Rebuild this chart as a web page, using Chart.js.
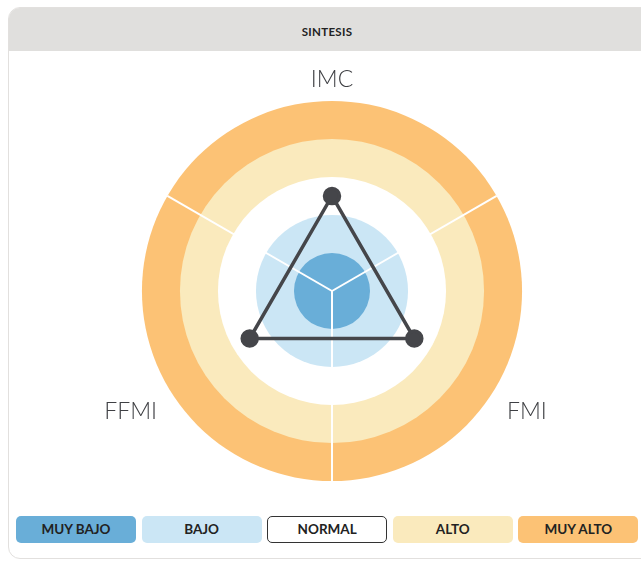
<!DOCTYPE html>
<html lang="es">

<head>
    <meta charset="UTF-8">
    <title>Sintesis</title>

    <style>
        html, body {
            margin: 0;
            padding: 0;
            width: 641px;
            height: 562px;
            overflow: hidden;
            background: #ffffff;
            font-family: Lato, "Noto Sans", sans-serif;
        }

        .card {
            position: absolute;
            left: 8px;
            top: 7px;
            width: 700px;
            height: 552px;
            border: 1.5px solid #e2e0de;
            border-radius: 12px;
            overflow: hidden;
            box-sizing: border-box;
        }

        .card-header {
            height: 43px;
            background: #e0dfdd;
            text-align: center;
            line-height: 48px;
            font-size: 11.5px;
            font-weight: 700;
            color: #222222;
            padding-right: 62px;
            letter-spacing: 0.3px;
        }

        #chart-wrap {
            position: absolute;
            left: 12px;
            top: 57px;
        }

        .legend {
            position: absolute;
            left: 16px;
            top: 516px;
            display: flex;
            gap: 5.6px;
        }

        .legend div {
            width: 120px;
            height: 27px;
            box-sizing: border-box;
            border-radius: 5px;
            text-align: center;
            line-height: 27px;
            font-size: 13.5px;
            font-weight: 700;
            color: #222222;
        }
    </style>
</head>

<body>
    <div class="card">
        <div class="card-header">SINTESIS</div>
    </div>

    <div id="chart-wrap">
        <canvas id="radar-chart" width="640" height="440"></canvas>
    </div>

    <div class="legend" id="legend"></div>

    <script src="https://cdn.jsdelivr.net/npm/chart.js"></script>
    <script>
        // ejes y valores
        var axisLabels = ["IMC", "FMI", "FFMI"];
        var values = [2.5, 2.5, 2.5];

        // bandas de la escala (0..5)
        var bandNames = ["MUY BAJO", "BAJO", "NORMAL", "ALTO", "MUY ALTO"];
        var bandLimits = [0, 1, 2, 3, 4, 5];
        var bandColors = ["#69aed8", "#cbe6f5", "#ffffff", "#faeabd", "#fcc275"];

        // legend boxes
        var legend = document.getElementById("legend");
        bandNames.forEach(function (name, i) {
            var box = document.createElement("div");
            box.textContent = name;
            box.style.background = bandColors[i];
            if (bandColors[i] === "#ffffff") {
                box.style.border = "1.5px solid #333333";
                box.style.lineHeight = "24px";
            }
            legend.appendChild(box);
        });

        // rings + white spokes between the axes
        var bandsPlugin = {
            id: "bands",
            beforeDatasetsDraw: function (chart) {
                var scale = chart.scales.r;
                var ctx = chart.ctx;
                var cx = scale.xCenter;
                var cy = scale.yCenter;
                ctx.save();
                for (var i = bandColors.length - 1; i >= 0; i--) {
                    var r = scale.getDistanceFromCenterForValue(bandLimits[i + 1]);
                    ctx.beginPath();
                    ctx.arc(cx, cy, r, 0, Math.PI * 2);
                    ctx.fillStyle = bandColors[i];
                    ctx.fill();
                }
                var outer = scale.getDistanceFromCenterForValue(bandLimits[bandLimits.length - 1]);
                var step = Math.PI * 2 / axisLabels.length;
                ctx.strokeStyle = "#ffffff";
                ctx.lineWidth = 2;
                for (var k = 0; k < axisLabels.length; k++) {
                    var a = scale.getIndexAngle(k) + step / 2 - Math.PI / 2;
                    ctx.beginPath();
                    ctx.moveTo(cx, cy);
                    ctx.lineTo(cx + Math.cos(a) * outer, cy + Math.sin(a) * outer);
                    ctx.stroke();
                }
                ctx.restore();
            }
        };

        var ctx = document.getElementById("radar-chart").getContext("2d");
        var radarChart = new Chart(ctx, {
            type: "radar",
            data: {
                labels: axisLabels,
                datasets: [{
                    label: "Sintesis",
                    data: values,
                    fill: false,
                    borderColor: "#45464a",
                    borderWidth: 3.5,
                    pointBackgroundColor: "#45464a",
                    pointBorderColor: "#45464a",
                    pointRadius: 7.5,
                    pointHoverRadius: 7.5
                }]
            },
            options: {
                responsive: false,
                animation: false,
                layout: { padding: 0 },
                plugins: {
                    legend: { display: false },
                    tooltip: { enabled: false }
                },
                scales: {
                    r: {
                        min: 0,
                        max: 5,
                        ticks: { display: false, stepSize: 1 },
                        grid: { display: false },
                        angleLines: { display: false },
                        pointLabels: {
                            padding: 12,
                            color: "#3f4044",
                            font: function (c) {
                                // top label sits a bit lower, bottom ones a bit lower too
                                return {
                                    family: "Lato",
                                    size: 23,
                                    weight: "300",
                                    lineHeight: c.index === 0 ? 0.78 : 1.66
                                };
                            }
                        }
                    }
                }
            },
            plugins: [bandsPlugin]
        });
    </script>
</body>

</html>
